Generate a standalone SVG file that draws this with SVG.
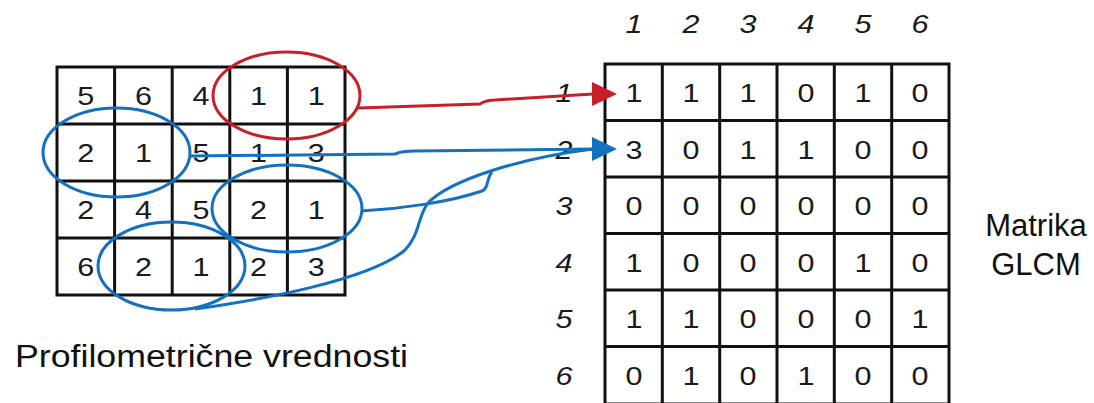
<svg xmlns="http://www.w3.org/2000/svg" width="1094" height="403" viewBox="0 0 1094 403">
  <style>
    .grid { fill: none; stroke: #111; stroke-width: 3; }
    .num { font-family: "Liberation Sans", Arial, sans-serif; font-size: 26px; fill: #1a1a1a; text-anchor: middle; }
    .idx { font-family: "Liberation Sans", Arial, sans-serif; font-size: 26px; font-style: italic; fill: #1a1a1a; text-anchor: middle; }
    .lbl { font-family: "Liberation Sans", Arial, sans-serif; font-size: 31px; fill: #111; }
    .red { fill: none; stroke: #c81e28; stroke-width: 3; }
    .blue { fill: none; stroke: #1470c0; stroke-width: 3; }
  </style>
  <defs>
    <marker id="ahRed" markerUnits="userSpaceOnUse" markerWidth="26" markerHeight="26" refX="1" refY="12" orient="0">
      <path d="M0,0 L25,12 L0,24 Z" fill="#c81e28"/>
    </marker>
    <marker id="ahBlue" markerUnits="userSpaceOnUse" markerWidth="26" markerHeight="26" refX="1" refY="12" orient="0">
      <path d="M0,0 L25,12 L0,24 Z" fill="#1470c0"/>
    </marker>
  </defs>
  <rect width="1094" height="403" fill="#fff"/>

  <!-- Input (profilometric) matrix -->
  <g id="input-matrix">
    <rect class="grid" x="57" y="67" width="288" height="228"/>
    <path class="grid" d="M114.6,67V295 M172.2,67V295 M229.8,67V295 M287.4,67V295 M57,124H345 M57,181H345 M57,238H345"/>
    <g class="num">
      <text x="85.8" y="105" textLength="17" lengthAdjust="spacingAndGlyphs">5</text>
      <text x="143.4" y="105" textLength="17" lengthAdjust="spacingAndGlyphs">6</text>
      <text x="201" y="105" textLength="17" lengthAdjust="spacingAndGlyphs">4</text>
      <text x="258.6" y="105" textLength="17" lengthAdjust="spacingAndGlyphs">1</text>
      <text x="316.2" y="105" textLength="17" lengthAdjust="spacingAndGlyphs">1</text>
      <text x="85.8" y="162" textLength="17" lengthAdjust="spacingAndGlyphs">2</text>
      <text x="143.4" y="162" textLength="17" lengthAdjust="spacingAndGlyphs">1</text>
      <text x="201" y="162" textLength="17" lengthAdjust="spacingAndGlyphs">5</text>
      <text x="258.6" y="162" textLength="17" lengthAdjust="spacingAndGlyphs">1</text>
      <text x="316.2" y="162" textLength="17" lengthAdjust="spacingAndGlyphs">3</text>
      <text x="85.8" y="219" textLength="17" lengthAdjust="spacingAndGlyphs">2</text>
      <text x="143.4" y="219" textLength="17" lengthAdjust="spacingAndGlyphs">4</text>
      <text x="201" y="219" textLength="17" lengthAdjust="spacingAndGlyphs">5</text>
      <text x="258.6" y="219" textLength="17" lengthAdjust="spacingAndGlyphs">2</text>
      <text x="316.2" y="219" textLength="17" lengthAdjust="spacingAndGlyphs">1</text>
      <text x="85.8" y="276" textLength="17" lengthAdjust="spacingAndGlyphs">6</text>
      <text x="143.4" y="276" textLength="17" lengthAdjust="spacingAndGlyphs">2</text>
      <text x="201" y="276" textLength="17" lengthAdjust="spacingAndGlyphs">1</text>
      <text x="258.6" y="276" textLength="17" lengthAdjust="spacingAndGlyphs">2</text>
      <text x="316.2" y="276" textLength="17" lengthAdjust="spacingAndGlyphs">3</text>
    </g>
  </g>

  <!-- Highlighted pairs -->
  <g id="pair-1-1"><ellipse class="red" cx="286.5" cy="95.5" rx="73.5" ry="43.5"/></g>
  <g id="pair-2-1-a"><ellipse class="blue" cx="116.5" cy="152.5" rx="73.5" ry="44.5"/></g>
  <g id="pair-2-1-b"><ellipse class="blue" cx="287" cy="208.5" rx="75" ry="43.5"/></g>
  <g id="pair-2-1-c"><ellipse class="blue" cx="171.5" cy="266" rx="73.5" ry="44"/></g>

  <!-- GLCM matrix -->
  <g id="glcm-matrix">
    <rect class="grid" x="605" y="64" width="344" height="340"/>
    <path class="grid" d="M662.3,64V404 M719.7,64V404 M777,64V404 M834.3,64V404 M891.7,64V404 M605,120.5H949 M605,177H949 M605,233.5H949 M605,290H949 M605,346.5H949"/>
    <g class="num">
      <text x="634" y="102" textLength="17" lengthAdjust="spacingAndGlyphs">1</text>
      <text x="691" y="102" textLength="17" lengthAdjust="spacingAndGlyphs">1</text>
      <text x="748" y="102" textLength="17" lengthAdjust="spacingAndGlyphs">1</text>
      <text x="806" y="102" textLength="17" lengthAdjust="spacingAndGlyphs">0</text>
      <text x="863" y="102" textLength="17" lengthAdjust="spacingAndGlyphs">1</text>
      <text x="920" y="102" textLength="17" lengthAdjust="spacingAndGlyphs">0</text>
      <text x="634" y="158.5" textLength="17" lengthAdjust="spacingAndGlyphs">3</text>
      <text x="691" y="158.5" textLength="17" lengthAdjust="spacingAndGlyphs">0</text>
      <text x="748" y="158.5" textLength="17" lengthAdjust="spacingAndGlyphs">1</text>
      <text x="806" y="158.5" textLength="17" lengthAdjust="spacingAndGlyphs">1</text>
      <text x="863" y="158.5" textLength="17" lengthAdjust="spacingAndGlyphs">0</text>
      <text x="920" y="158.5" textLength="17" lengthAdjust="spacingAndGlyphs">0</text>
      <text x="634" y="215" textLength="17" lengthAdjust="spacingAndGlyphs">0</text>
      <text x="691" y="215" textLength="17" lengthAdjust="spacingAndGlyphs">0</text>
      <text x="748" y="215" textLength="17" lengthAdjust="spacingAndGlyphs">0</text>
      <text x="806" y="215" textLength="17" lengthAdjust="spacingAndGlyphs">0</text>
      <text x="863" y="215" textLength="17" lengthAdjust="spacingAndGlyphs">0</text>
      <text x="920" y="215" textLength="17" lengthAdjust="spacingAndGlyphs">0</text>
      <text x="634" y="271.5" textLength="17" lengthAdjust="spacingAndGlyphs">1</text>
      <text x="691" y="271.5" textLength="17" lengthAdjust="spacingAndGlyphs">0</text>
      <text x="748" y="271.5" textLength="17" lengthAdjust="spacingAndGlyphs">0</text>
      <text x="806" y="271.5" textLength="17" lengthAdjust="spacingAndGlyphs">0</text>
      <text x="863" y="271.5" textLength="17" lengthAdjust="spacingAndGlyphs">1</text>
      <text x="920" y="271.5" textLength="17" lengthAdjust="spacingAndGlyphs">0</text>
      <text x="634" y="328" textLength="17" lengthAdjust="spacingAndGlyphs">1</text>
      <text x="691" y="328" textLength="17" lengthAdjust="spacingAndGlyphs">1</text>
      <text x="748" y="328" textLength="17" lengthAdjust="spacingAndGlyphs">0</text>
      <text x="806" y="328" textLength="17" lengthAdjust="spacingAndGlyphs">0</text>
      <text x="863" y="328" textLength="17" lengthAdjust="spacingAndGlyphs">0</text>
      <text x="920" y="328" textLength="17" lengthAdjust="spacingAndGlyphs">1</text>
      <text x="634" y="384.5" textLength="17" lengthAdjust="spacingAndGlyphs">0</text>
      <text x="691" y="384.5" textLength="17" lengthAdjust="spacingAndGlyphs">1</text>
      <text x="748" y="384.5" textLength="17" lengthAdjust="spacingAndGlyphs">0</text>
      <text x="806" y="384.5" textLength="17" lengthAdjust="spacingAndGlyphs">1</text>
      <text x="863" y="384.5" textLength="17" lengthAdjust="spacingAndGlyphs">0</text>
      <text x="920" y="384.5" textLength="17" lengthAdjust="spacingAndGlyphs">0</text>
    </g>
  </g>

  <!-- Column indices -->
  <g id="col-index" class="idx">
    <text x="634" y="33" textLength="17" lengthAdjust="spacingAndGlyphs">1</text>
    <text x="691" y="33" textLength="17" lengthAdjust="spacingAndGlyphs">2</text>
    <text x="748" y="33" textLength="17" lengthAdjust="spacingAndGlyphs">3</text>
    <text x="806" y="33" textLength="17" lengthAdjust="spacingAndGlyphs">4</text>
    <text x="863" y="33" textLength="17" lengthAdjust="spacingAndGlyphs">5</text>
    <text x="920" y="33" textLength="17" lengthAdjust="spacingAndGlyphs">6</text>
  </g>
  <!-- Row indices -->
  <g id="row-index" class="idx">
    <text x="564" y="102" textLength="17" lengthAdjust="spacingAndGlyphs">1</text>
    <text x="564" y="158.5" textLength="17" lengthAdjust="spacingAndGlyphs">2</text>
    <text x="564" y="215" textLength="17" lengthAdjust="spacingAndGlyphs">3</text>
    <text x="564" y="271.5" textLength="17" lengthAdjust="spacingAndGlyphs">4</text>
    <text x="564" y="328" textLength="17" lengthAdjust="spacingAndGlyphs">5</text>
    <text x="564" y="384.5" textLength="17" lengthAdjust="spacingAndGlyphs">6</text>
  </g>

  <!-- Connectors -->
  <g id="connectors">
    <path class="red" d="M358,108 L480,104 Q486,100 495,100 L593,94" marker-end="url(#ahRed)"/>
    <path class="blue" d="M190,156 L395,154 Q402,151 415,151 L593,149" marker-end="url(#ahBlue)"/>
    <path class="blue" d="M361,211 C400,209 450,202 482,191 C489,188 486,179 492,172"/>
    <path class="blue" d="M195,309 C260,300 370,280 405,250 C420,235 418,215 428,203 C450,180 520,158 593,149"/>
  </g>

  <!-- Labels -->
  <g id="label-input">
    <text class="lbl" x="15" y="367" font-size="33" textLength="393" lengthAdjust="spacingAndGlyphs">Profilometrične vrednosti</text>
  </g>
  <g id="label-glcm">
    <text class="lbl" x="1036" y="236" text-anchor="middle">Matrika</text>
    <text class="lbl" x="1036" y="275" text-anchor="middle">GLCM</text>
  </g>
</svg>
